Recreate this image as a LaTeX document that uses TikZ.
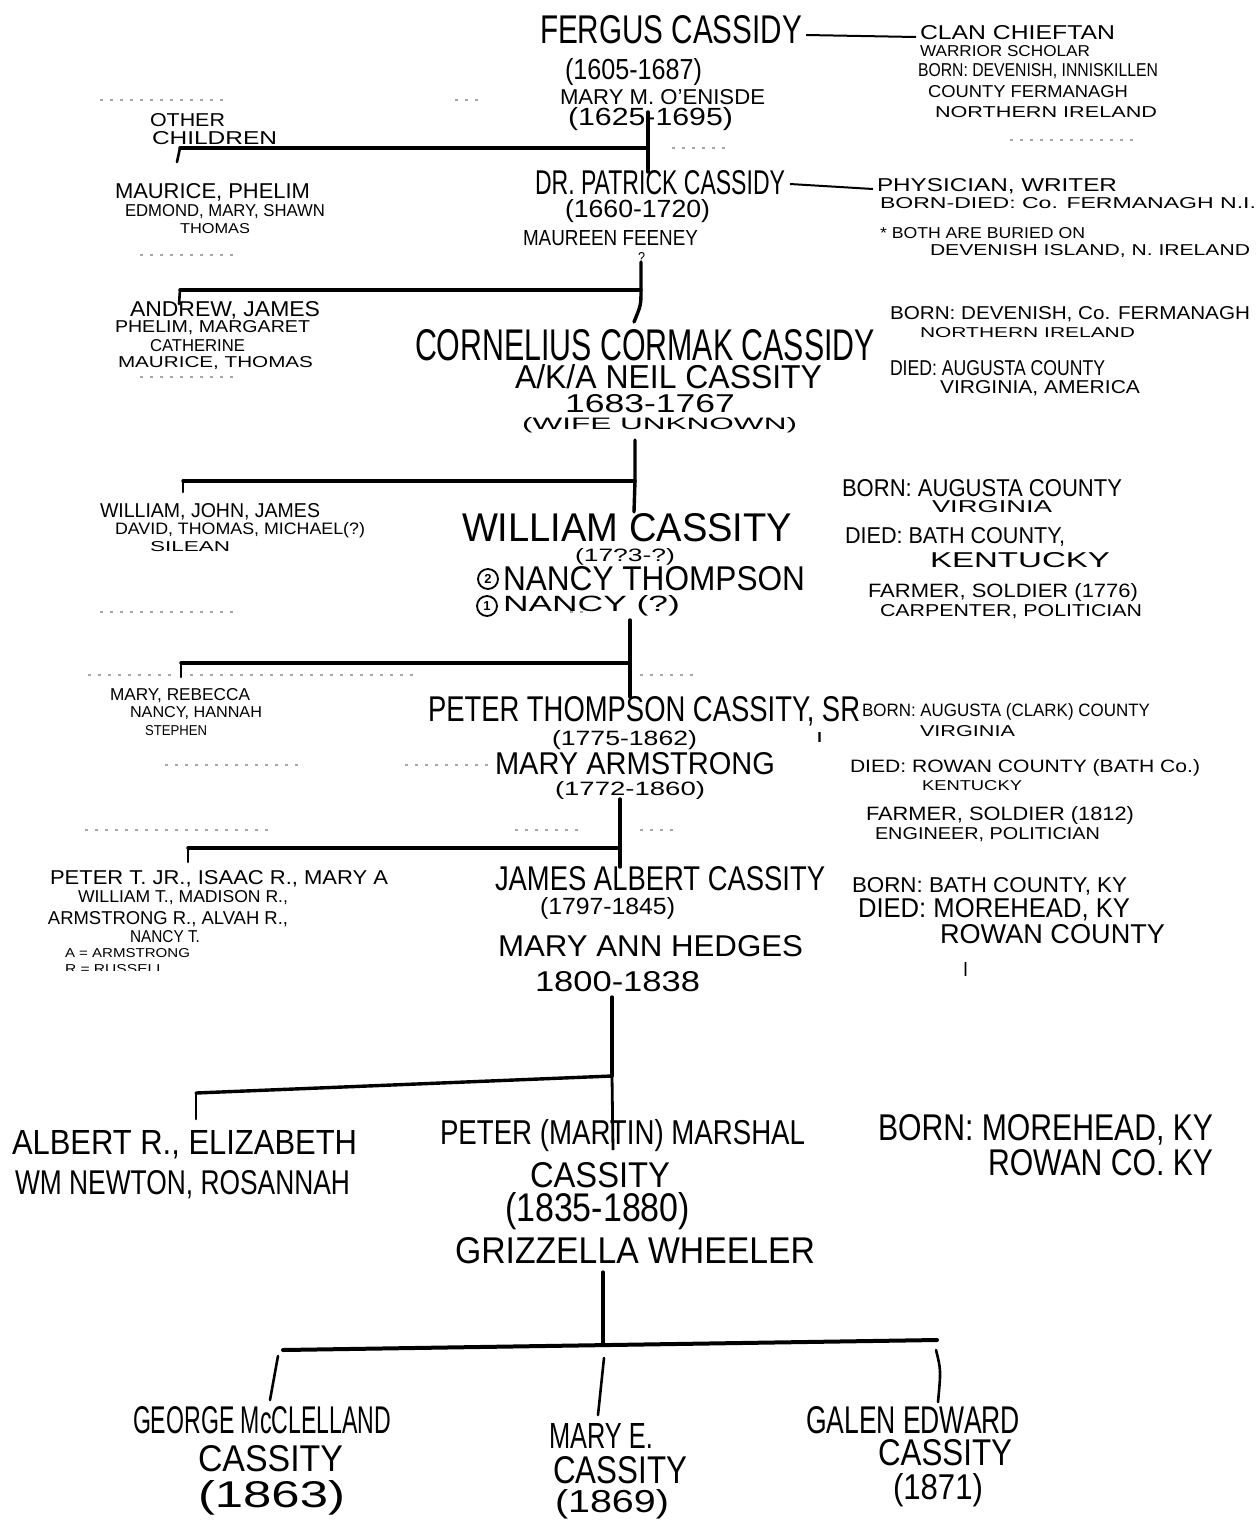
\documentclass[tikz,border=0pt]{standalone}
\usepackage{fontspec}
\usepackage{graphicx}
\setmainfont{Liberation Sans}
\newcommand\hw[3]{\resizebox{#1pt}{#2pt}{#3}}
\tikzset{
  txt/.style={anchor=west, inner sep=0pt, outer sep=0pt},
  tree/.style={line width=3.4pt, line cap=round, line join=round},
  tickln/.style={line width=2.6pt, line cap=round},
  dashln/.style={line width=2pt},
  speck/.style={gray!70, line width=1.4pt, dash pattern=on 3pt off 7pt},
  circnum/.style={circle, draw, line width=1.8pt, minimum size=20pt, inner sep=0pt, font=\fontsize{13}{13}\selectfont\bfseries}
}
\begin{document}
\begin{tikzpicture}[x=1pt,y=-1pt]
\useasboundingbox (0,0) rectangle (1258,1524);
\fill[white] (0,0) rectangle (1258,1524);

% ---------------- scan specks (faint dotted marks) ----------------
\draw[speck] (100,100) -- (225,100);
\draw[speck] (455,100) -- (485,100);
\draw[speck] (672,148) -- (725,148);
\draw[speck] (1010,140) -- (1140,140);
\draw[speck] (140,255) -- (240,255);
\draw[speck] (140,377) -- (240,377);
\draw[speck] (100,612) -- (240,612);
\draw[speck] (570,612) -- (590,612);
\draw[speck] (88,675) -- (175,675);
\draw[speck] (190,675) -- (420,675);
\draw[speck] (640,675) -- (700,675);
\draw[speck] (165,765) -- (300,765);
\draw[speck] (405,765) -- (490,765);
\draw[speck] (85,830) -- (275,830);
\draw[speck] (515,830) -- (580,830);
\draw[speck] (640,830) -- (680,830);

% ---------------- generation 1 ----------------
\node[txt] (f1) at (540,30) {\hw{262}{28}{FERGUS CASSIDY}};
\node[txt] (f2) at (565,72) {\hw{137}{21}{(1605-1687)}};
\node[txt] (f3) at (560,97) {\hw{205}{15}{MARY M. O'ENISDE}};
\node[txt] (f4) at (568,119) {\hw{165}{18}{(1625-1695)}};
\node[txt] (r1a) at (920,33) {\hw{195}{14}{CLAN CHIEFTAN}};
\node[txt] (r1b) at (920,51) {\hw{170}{11}{WARRIOR SCHOLAR}};
\node[txt] (r1c) at (918,71) {\hw{240}{13}{BORN: DEVENISH, INNISKILLEN}};
\node[txt] (r1d) at (928,92) {\hw{200}{12}{COUNTY FERMANAGH}};
\node[txt] (r1e) at (935,112) {\hw{222}{11}{NORTHERN IRELAND}};
\draw[dashln] ([xshift=4pt,yshift=-5pt]f1.east) -- ([xshift=-4pt,yshift=-4pt]r1a.west);

\node[txt] (o1) at (150,120) {\hw{75}{13}{OTHER}};
\node[txt] (o2) at (152,138) {\hw{125}{13}{CHILDREN}};
\node[txt] (s1a) at (115,192) {\hw{195}{15}{MAURICE, PHELIM}};
\node[txt] (s1b) at (125,212) {\hw{200}{12}{EDMOND, MARY, SHAWN}};
\node[txt] (s1c) at (180,229) {\hw{70}{10}{THOMAS}};

\coordinate (g1top) at (648,112);
\coordinate (g1j) at (648,148);
\coordinate (g1bot) at (648,172);
\coordinate (g1l) at (180,148);
\coordinate (g1lt) at (177,162);
\draw[tree] (g1top) -- (g1j) -- (g1bot);
\draw[tree] (g1j) -- (g1l);
\draw[tickln] (g1l) -- (g1lt);

% ---------------- generation 2 ----------------
\node[txt] (p1) at (535,183) {\hw{250}{24}{DR. PATRICK CASSIDY}};
\node[txt] (p2) at (565,211) {\hw{145}{18}{(1660-1720)}};
\node[txt] (p3) at (523,238) {\hw{175}{15}{MAUREEN FEENEY}};
\node[txt] (p4) at (638,257) {\hw{7}{10}{?}};
\node[txt] (r2a) at (877,186) {\hw{240}{13}{PHYSICIAN, WRITER}};
\node[txt] (r2b) at (880,203) {\hw{376}{11}{BORN-DIED: Co. FERMANAGH N.I.}};
\node[txt] (r2c) at (880,233) {\hw{205}{11}{* BOTH ARE BURIED ON}};
\node[txt] (r2d) at (930,251) {\hw{320}{11}{DEVENISH ISLAND, N. IRELAND}};
\draw[dashln] ([xshift=5pt,yshift=-1pt]p1.east) -- ([xshift=-4pt,yshift=-3pt]r2a.west);

\node[txt] (s2a) at (130,310) {\hw{190}{15}{ANDREW, JAMES}};
\node[txt] (s2b) at (115,328) {\hw{195}{12}{PHELIM, MARGARET}};
\node[txt] (s2c) at (150,346) {\hw{95}{12}{CATHERINE}};
\node[txt] (s2d) at (118,363) {\hw{195}{11}{MAURICE, THOMAS}};

\coordinate (g2top) at (641,262);
\coordinate (g2j) at (641,290);
\coordinate (g2bot) at (634,322);
\coordinate (g2l) at (180,290);
\coordinate (g2lt) at (179,304);
\draw[tree] (g2top) -- (g2j) .. controls (641,305) .. (g2bot);
\draw[tree] (g2j) -- (g2l);
\draw[tickln] (g2l) -- (g2lt);

% ---------------- generation 3 ----------------
\node[txt] (c1) at (415,345) {\hw{460}{31}{CORNELIUS CORMAK CASSIDY}};
\node[txt] (c2) at (515,377) {\hw{307}{24}{A/K/A NEIL CASSITY}};
\node[txt] (c3) at (565,404) {\hw{170}{18}{1683-1767}};
\node[txt] (c4) at (522,425) {\hw{275}{12}{(WIFE UNKNOWN)}};
\node[txt] (r3a) at (890,314) {\hw{360}{13}{BORN: DEVENISH, Co. FERMANAGH}};
\node[txt] (r3b) at (920,333) {\hw{215}{10}{NORTHERN IRELAND}};
\node[txt] (r3c) at (890,368) {\hw{215}{15}{DIED: AUGUSTA COUNTY}};
\node[txt] (r3d) at (940,388) {\hw{200}{13}{VIRGINIA, AMERICA}};

\node[txt] (s3a) at (100,512) {\hw{220}{14}{WILLIAM, JOHN, JAMES}};
\node[txt] (s3b) at (115,530) {\hw{250}{12}{DAVID, THOMAS, MICHAEL(?)}};
\node[txt] (s3c) at (150,547) {\hw{80}{10}{SILEAN}};

\coordinate (g3top) at (635,440);
\coordinate (g3j) at (635,481);
\coordinate (g3bot) at (634,512);
\coordinate (g3l) at (183,481);
\coordinate (g3lt) at (183,492);
\draw[tree] (g3top) -- (g3j) -- (g3bot);
\draw[tree] (g3j) -- (g3l);
\draw[tickln] (g3l) -- (g3lt);

% ---------------- generation 4 ----------------
\node[txt] (w1) at (462,528) {\hw{330}{28}{WILLIAM CASSITY}};
\node[txt] (w2) at (575,557) {\hw{100}{13}{(17?3-?)}};
\node[circnum] (n2) at (488,579) {2};
\node[txt] (w3) at (503,579) {\hw{302}{24}{NANCY THOMPSON}};
\node[circnum] (n1) at (487,606) {1};
\node[txt] (w4) at (503,606) {\hw{177}{16}{NANCY (?)}};
\node[txt] (r4a) at (842,488) {\hw{280}{17}{BORN: AUGUSTA COUNTY}};
\node[txt] (r4b) at (932,507) {\hw{120}{12}{VIRGINIA}};
\node[txt] (r4c) at (845,537) {\hw{220}{16}{DIED: BATH COUNTY,}};
\node[txt] (r4d) at (930,560) {\hw{180}{15}{KENTUCKY}};
\node[txt] (r4e) at (868,592) {\hw{270}{14}{FARMER, SOLDIER (1776)}};
\node[txt] (r4f) at (880,612) {\hw{262}{12}{CARPENTER, POLITICIAN}};

\node[txt] (s4a) at (110,696) {\hw{140}{12}{MARY, REBECCA}};
\node[txt] (s4b) at (130,713) {\hw{132}{11}{NANCY, HANNAH}};
\node[txt] (s4c) at (145,731) {\hw{62}{10}{STEPHEN}};

\coordinate (g4top) at (630,620);
\coordinate (g4j) at (630,663);
\coordinate (g4bot) at (630,697);
\coordinate (g4l) at (181,663);
\coordinate (g4lt) at (181,677);
\draw[tree] (g4top) -- (g4j) -- (g4bot);
\draw[tree] (g4j) -- (g4l);
\draw[tickln] (g4l) -- (g4lt);

% ---------------- generation 5 ----------------
\node[txt] (t1) at (428,711) {\hw{432}{25}{PETER THOMPSON CASSITY, SR}};
\node[txt] (t1b) at (816,737) {\hw{7}{10}{I}};
\node[txt] (t2) at (552,740) {\hw{145}{15}{(1775-1862)}};
\node[txt] (t3) at (495,764) {\hw{280}{22}{MARY ARMSTRONG}};
\node[txt] (t4) at (555,790) {\hw{150}{14}{(1772-1860)}};
\node[txt] (r5a) at (862,712) {\hw{288}{13}{BORN: AUGUSTA (CLARK) COUNTY}};
\node[txt] (r5b) at (920,731) {\hw{95}{11}{VIRGINIA}};
\node[txt] (r5c) at (850,768) {\hw{350}{13}{DIED: ROWAN COUNTY (BATH Co.)}};
\node[txt] (r5d) at (922,786) {\hw{100}{10}{KENTUCKY}};
\node[txt] (r5e) at (866,815) {\hw{268}{14}{FARMER, SOLDIER (1812)}};
\node[txt] (r5f) at (875,835) {\hw{225}{12}{ENGINEER, POLITICIAN}};

\node[txt] (s5a) at (50,879) {\hw{338}{14}{PETER T. JR., ISAAC R., MARY A}};
\node[txt] (s5b) at (78,898) {\hw{210}{12}{WILLIAM T., MADISON R.,}};
\node[txt] (s5c) at (48,919) {\hw{240}{13}{ARMSTRONG R., ALVAH R.,}};
\node[txt] (s5d) at (130,937) {\hw{70}{12}{NANCY T.}};
\node[txt] (s5e) at (65,953) {\hw{125}{9}{A = ARMSTRONG}};
\begin{scope}
\clip (40,962) rectangle (200,970);
\node[txt] (s5f) at (65,969) {\hw{100}{9}{R = RUSSELL}};
\end{scope}

\coordinate (g5top) at (620,799);
\coordinate (g5j) at (620,848);
\coordinate (g5bot) at (620,867);
\coordinate (g5l) at (188,848);
\coordinate (g5lt) at (188,862);
\draw[tree] (g5top) -- (g5j) -- (g5bot);
\draw[tree] (g5j) -- (g5l);
\draw[tickln] (g5l) -- (g5lt);

% ---------------- generation 6 ----------------
\node[txt] (a1) at (495,879) {\hw{330}{24}{JAMES ALBERT CASSITY}};
\node[txt] (a2) at (540,908) {\hw{135}{17}{(1797-1845)}};
\node[txt] (a3) at (498,946) {\hw{305}{21}{MARY ANN HEDGES}};
\node[txt] (a4) at (535,982) {\hw{165}{20}{1800-1838}};
\node[txt] (r6a) at (852,886) {\hw{275}{15}{BORN: BATH COUNTY, KY}};
\node[txt] (r6b) at (858,910) {\hw{272}{19}{DIED: MOREHEAD, KY}};
\node[txt] (r6c) at (940,934) {\hw{225}{19}{ROWAN COUNTY}};
\node[txt] (r6d) at (963,969) {\hw{5}{14}{I}};

\node[txt] (s6a) at (12,1145) {\hw{345}{24}{ALBERT R., ELIZABETH}};
\node[txt] (s6b) at (15,1185) {\hw{335}{24}{WM NEWTON, ROSANNAH}};

\coordinate (g6top) at (612,997);
\coordinate (g6j) at (612,1076);
\coordinate (g6bot) at (613,1150);
\coordinate (g6l) at (196,1093);
\coordinate (g6lt) at (196,1119);
\draw[tree] (g6top) -- (g6j);
\draw[line width=2.8pt] (g6j) -- (g6bot);
\draw[tree] (g6j) -- (g6l);
\draw[tickln] (g6l) -- (g6lt);

% ---------------- generation 7 ----------------
\node[txt] (m1) at (440,1136) {\hw{365}{25}{PETER (MARTIN) MARSHAL}};
\node[txt] (m2) at (530,1175) {\hw{140}{25}{CASSITY}};
\node[txt] (m3) at (505,1211) {\hw{185}{29}{(1835-1880)}};
\node[txt] (m4) at (455,1251) {\hw{360}{26}{GRIZZELLA WHEELER}};
\node[txt] (r7a) at (878,1130) {\hw{335}{26}{BORN: MOREHEAD, KY}};
\node[txt] (r7b) at (988,1163) {\hw{225}{26}{ROWAN CO. KY}};

\coordinate (g7top) at (603,1272);
\coordinate (g7j) at (603,1345);
\coordinate (g7l) at (283,1350);
\coordinate (g7r) at (937,1340);
\coordinate (k1a) at (278,1356);
\coordinate (k1b) at (270,1400);
\coordinate (k2a) at (604,1358);
\coordinate (k2b) at (598,1415);
\coordinate (k3a) at (936,1350);
\coordinate (k3b) at (938,1402);
\draw[tree] (g7top) -- (g7j);
\draw[line width=4pt, line cap=round] (g7l) -- (g7r);
\draw[tickln] (k1a) -- (k1b);
\draw[tickln] (k2a) -- (k2b);
\draw[tickln] (k3a) .. controls (941,1370) .. (k3b);

% ---------------- generation 8 ----------------
\node[txt] (k1n) at (133,1420) {\hw{258}{27}{GEORGE McCLELLAND}};
\node[txt] (k1c) at (198,1459) {\hw{145}{26}{CASSITY}};
\node[txt] (k1d) at (198,1498) {\hw{147}{27}{(1863)}};
\node[txt] (k2n) at (549,1436) {\hw{104}{25}{MARY E.}};
\node[txt] (k2c) at (553,1470) {\hw{134}{27}{CASSITY}};
\node[txt] (k2d) at (555,1504) {\hw{114}{23}{(1869)}};
\node[txt] (k3n) at (806,1420) {\hw{214}{27}{GALEN EDWARD}};
\node[txt] (k3c) at (878,1453) {\hw{134}{26}{CASSITY}};
\node[txt] (k3d) at (893,1490) {\hw{90}{26}{(1871)}};
\end{tikzpicture}
\end{document}
